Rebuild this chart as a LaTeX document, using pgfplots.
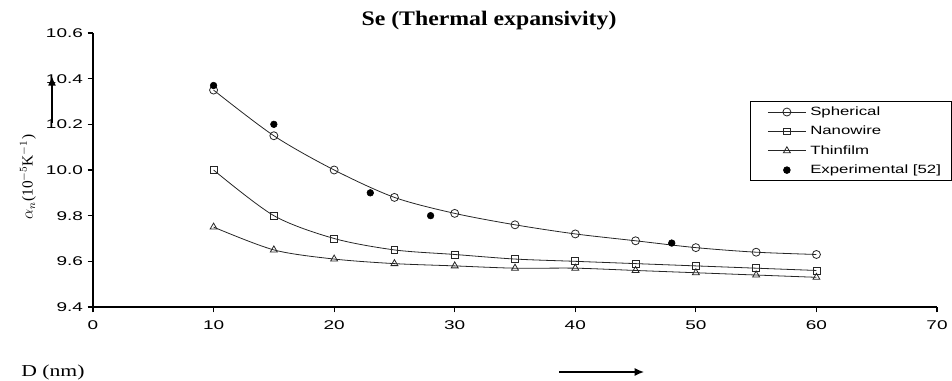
\documentclass[border=0pt]{standalone}
\usepackage{pgfplots}
\pgfplotsset{compat=1.18}
\usepackage{fontspec}
\setmainfont{Liberation Serif}
\setsansfont{Liberation Sans}
\newfontfamily\ticksf{Liberation Sans}[FakeStretch=1.5]
\newfontfamily\legsf{Liberation Sans}[FakeStretch=1.4]
\newfontfamily\titlerm{Liberation Serif}[FakeStretch=1.15]
\newfontfamily\labrm{Liberation Serif}[FakeStretch=1.3]
\usetikzlibrary{arrows.meta}
\pgfplotsset{
  longline legend/.style={legend image code/.code={\path (-0.25cm,0cm); \draw[mark repeat=2,mark phase=2,##1] plot coordinates {(0cm,0cm) (0.5cm,0cm) (1cm,0cm)};}},
  centermark legend/.style={legend image code/.code={\path (-0.25cm,0cm) (1cm,0cm); \draw[##1] plot coordinates {(0.5cm,0cm)};}},
}
\begin{document}
\begin{tikzpicture}
\useasboundingbox (-69.75pt,-55.5pt) rectangle (644.25pt,230.25pt);
\begin{axis}[
  at={(0,0)}, anchor=south west,
  scale only axis, width=633pt, height=205.5pt,
  xmin=0, xmax=70, ymin=9.4, ymax=10.6,
  xtick={0,10,20,30,40,50,60,70},
  ytick={9.4,9.6,9.8,10.0,10.2,10.4,10.6},
  axis x line*=bottom, axis y line*=left,
  axis line style={line width=0.8pt},
  tick align=outside, major tick length=4pt,
  tick style={line width=0.8pt, black},
  /pgf/number format/assume math mode=true,
  ticklabel style={font=\ticksf\fontsize{9.5}{11}\selectfont},
  yticklabel style={/pgf/number format/.cd, fixed, fixed zerofill, precision=1},
  xticklabel style={yshift=-3pt, /pgf/number format/.cd, fixed, precision=0},
  legend style={at={(0.778,0.752)}, anchor=north west, draw=black, line width=0.6pt,
    font=\legsf\fontsize{9}{11}\selectfont, row sep=2.5pt, inner xsep=6pt, inner ysep=2pt,
    /tikz/every odd column/.append style={column sep=1pt}},
  legend cell align=left,
  clip=false,
]
\addplot[smooth, color=black!85, line width=0.6pt, mark=o, mark size=3pt, mark options={fill=white, solid}, longline legend]
  coordinates {(10,10.35) (15,10.15) (20,10.00) (25,9.88) (30,9.81) (35,9.76) (40,9.72) (45,9.69) (50,9.66) (55,9.64) (60,9.63)};
\addlegendentry{Spherical}
\addplot[smooth, color=black!85, line width=0.6pt, mark=square, mark size=2.6pt, mark options={fill=white, solid}, longline legend]
  coordinates {(10,10.00) (15,9.80) (20,9.70) (25,9.65) (30,9.63) (35,9.61) (40,9.60) (45,9.59) (50,9.58) (55,9.57) (60,9.56)};
\addlegendentry{Nanowire}
\addplot[smooth, color=black!85, line width=0.6pt, mark=triangle, mark size=3pt, mark options={fill=white, solid}, longline legend]
  coordinates {(10,9.75) (15,9.65) (20,9.61) (25,9.59) (30,9.58) (35,9.57) (40,9.57) (45,9.56) (50,9.55) (55,9.54) (60,9.53)};
\addlegendentry{Thinfilm}
\addplot[only marks, mark=*, mark size=2.5pt, color=black, centermark legend]
  coordinates {(10,10.37) (15,10.20) (23,9.90) (28,9.80) (48,9.68)};
\addlegendentry{Experimental [52]}
\end{axis}
\node[font=\titlerm\fontsize{15.5}{18}\selectfont\bfseries] at (297pt,215pt) {Se (Thermal expansivity)};
\node[rotate=90, font=\fontsize{11.5}{13}\selectfont] at (-48.75pt,97.5pt) {$\alpha_n$(10$^{-5}$K$^{-1}$)};
\draw[-{Latex[length=7pt,width=6pt]}, line width=1pt] (-30.75pt,138pt) -- (-30.75pt,173pt);
\node[font=\labrm\fontsize{12.5}{14}\selectfont] at (-30pt,-48.75pt) {D (nm)};
\draw[-{Latex[length=7pt,width=6pt]}, line width=1pt] (349.5pt,-48.75pt) -- (413.25pt,-48.75pt);
\end{tikzpicture}
\end{document}
